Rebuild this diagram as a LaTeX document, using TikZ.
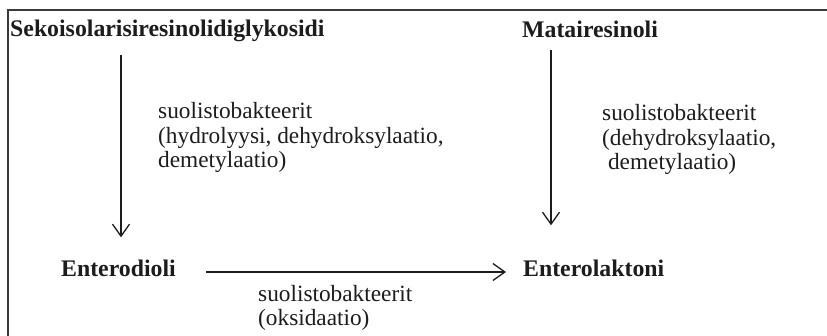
\documentclass[tikz,border=0pt]{standalone}
\usepackage{fontspec}
\setmainfont{Liberation Serif}
\usetikzlibrary{arrows.meta}
\definecolor{ink}{HTML}{1C1C1C}
\definecolor{rule}{HTML}{3A3A3A}
\begin{document}
\begin{tikzpicture}[x=1pt, y=-1pt,
  compound/.style={anchor=base west, inner sep=0pt, text=ink,
    font=\fontsize{23.8}{25}\selectfont\bfseries},
  note/.style={anchor=base west, inner sep=0pt, text=ink, align=left,
    font=\fontsize{23.3}{24.6}\selectfont},
  conv/.style={draw=ink, line width=1.3pt,
    -{Straight Barb[length=12pt, width=17pt, line width=1.3pt]}},
  frame/.style={draw=rule, line width=2pt}]
  \useasboundingbox (0,0) rectangle (827,336);

  % open frame: top and left edges only
  \coordinate (fl) at (8,336);
  \coordinate (ft) at (8,10);
  \coordinate (fr) at (827,10);
  \draw[frame] (fl) -- (ft) -- (fr);

  % compounds
  \node[compound] (seco) at (10,37) {Sekoisolarisiresinolidiglykosidi};
  \node[compound] (mat)  at (522,38) {Matairesinoli};
  \node[compound] (ed)   at (61,277) {Enterodioli};
  \node[compound] (el)   at (523,277) {Enterolaktoni};

  % conversion steps
  \draw[conv, shorten <=13pt, shorten >=23pt] (seco.south -| 121,0) -- (ed.north -| 121,0);
  \draw[conv, shorten <=12pt, shorten >=35pt] (mat.south -| 551,0) -- (el.north -| 551,0);
  \draw[conv, shorten <=30pt, shorten >=17pt] (ed.base east) ++(0,-5) coordinate (edr)
        (edr) -- (edr -| el.west);

  % enzyme / process notes (placed by the baseline of their last line)
  \node[note] (n1) at (158,168) {suolistobakteerit\\(hydrolyysi, dehydroksylaatio,\\demetylaatio)};
  \node[note] (n2) at (602,170) {suolistobakteerit\\(dehydroksylaatio,\\\ demetylaatio)};
  \node[note] (n3) at (258,326) {suolistobakteerit\\(oksidaatio)};
\end{tikzpicture}
\end{document}
